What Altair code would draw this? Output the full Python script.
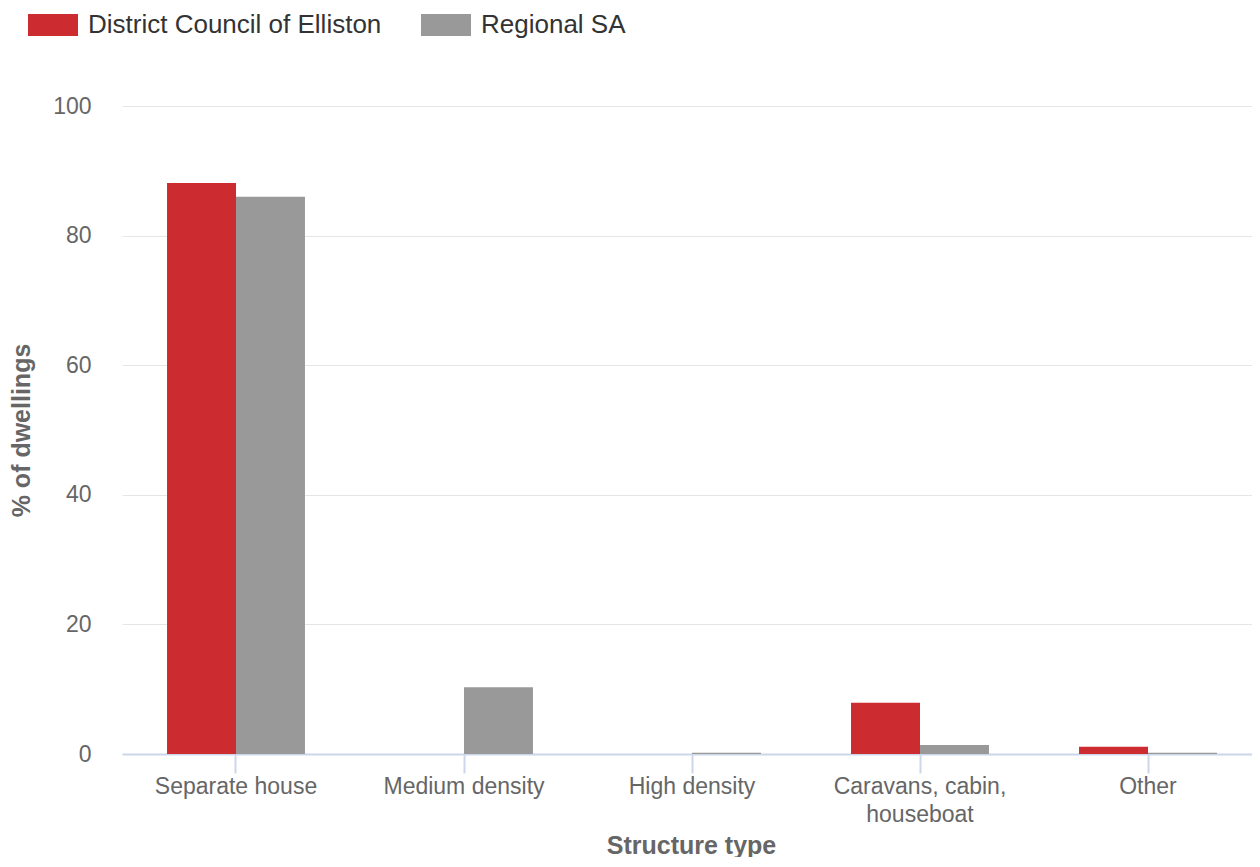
import altair as alt
import pandas as pd

categories = ["Separate house", "Medium density", "High density", "Caravans, cabin, houseboat", "Other"]
series = ["District Council of Elliston", "Regional SA"]
elliston = [88.1, 0.0, 0.0, 7.9, 1.1]
regional = [86.0, 10.3, 0.2, 1.4, 0.2]
colors = ["#cc2c30", "#999999"]
y_ticks = [0, 20, 40, 60, 80, 100]

rows = []
for c, a, b in zip(categories, elliston, regional):
    rows.append({"Structure type": c, "Area": series[0], "value": a})
    rows.append({"Structure type": c, "Area": series[1], "value": b})
df = pd.DataFrame(rows)

FONT = "Liberation Sans"
label_expr = "datum.value == 'Caravans, cabin, houseboat' ? ['Caravans, cabin,', 'houseboat'] : datum.value"

chart = alt.Chart(df).mark_bar().encode(
    x=alt.X(
        "Structure type:N",
        sort=categories,
        scale=alt.Scale(paddingInner=0.395, paddingOuter=0.1975, range=[0, 1140]),
        axis=alt.Axis(
            title="Structure type",
            labelAngle=0,
            labelExpr=label_expr,
            labelLineHeight=28,
            labelFontSize=23,
            labelColor="#666666",
            labelFont=FONT,
            labelPadding=2,
            labelOverlap=False,
            labelBound=False,
            tickSize=19,
            tickColor="#ccd6eb",
            tickWidth=2,
            domainColor="#ccd6eb",
            domainWidth=2,
            grid=False,
            titleFont=FONT,
            titleFontSize=25,
            titleFontWeight="bold",
            titleColor="#666666",
            titleBaseline="alphabetic",
            titleX=569,
            titleY=99,
        ),
    ),
    xOffset=alt.XOffset("Area:N", sort=series, scale=alt.Scale(paddingInner=0, paddingOuter=0)),
    y=alt.Y(
        "value:Q",
        scale=alt.Scale(domain=[0, 100], nice=False),
        axis=alt.Axis(
            title="% of dwellings",
            values=y_ticks,
            labelFontSize=23,
            labelColor="#666666",
            labelFont=FONT,
            labelPadding=31,
            ticks=False,
            domain=False,
            grid=True,
            gridColor="#e6e6e6",
            gridWidth=1,
            titleFont=FONT,
            titleFontSize=25,
            titleFontWeight="bold",
            titleColor="#666666",
            titleBaseline="alphabetic",
            titleX=-93,
        ),
    ),
    color=alt.Color(
        "Area:N",
        sort=series,
        scale=alt.Scale(domain=series, range=colors),
        legend=alt.Legend(
            title=None,
            orient="none",
            direction="horizontal",
            legendX=-94,
            legendY=-106,
            symbolType="M-1,-0.44H1V0.44H-1Z",
            symbolSize=2500,
            symbolStrokeWidth=0,
            symbolOpacity=1,
            labelFont=FONT,
            labelFontSize=26,
            labelColor="#333333",
            labelOffset=10,
            labelLimit=0,
            columnPadding=39,
            padding=0,
        ),
    ),
).properties(
    width=1130,
    height=648,
    autosize=alt.AutoSizeParams(type="none"),
    padding={"left": 114, "top": 98, "right": 0, "bottom": 103},
).configure_view(stroke=None)

chart.save("out.html", embed_options={"renderer": "svg", "actions": False})
